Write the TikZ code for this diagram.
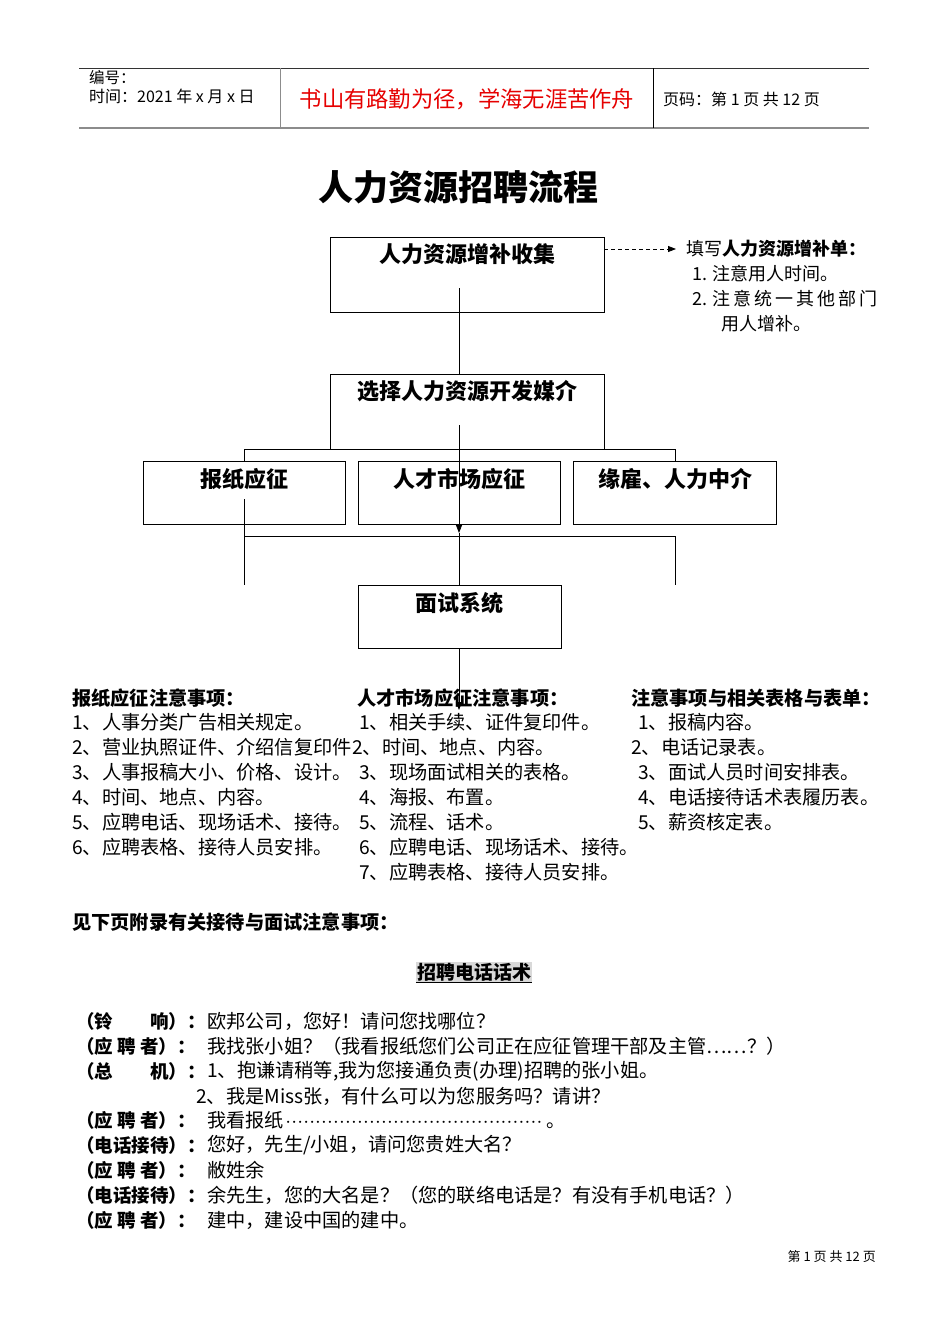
\documentclass[tikz,border=0pt]{standalone}
\usepackage{fontspec}
\setmainfont{Noto Sans CJK SC}
\usetikzlibrary{arrows.meta,calc}
\newcommand{\fsz}[1]{\fontsize{#1}{#1}\selectfont}
\newcommand{\gp}{\kern3pt}
\definecolor{mottored}{RGB}{230,0,0}
\begin{document}
\begin{tikzpicture}[x=1pt,y=-1pt,
  bigbox/.style={draw, line width=0.9pt, minimum width=274pt, minimum height=75pt, inner sep=0pt},
  midbox/.style={draw, line width=0.9pt, minimum width=202pt, minimum height=63pt, inner sep=0pt},
  boxlabel/.style={inner sep=0pt, font=\fsz{22}\bfseries},
  txt/.style={anchor=west, inner sep=0pt},
  body/.style={txt, font=\fsz{19.2}},
  bodysm/.style={txt, font=\fsz{19.2}},
  head/.style={txt, font=\fsz{19.2}\bfseries},
  dlabel/.style={txt, font=\fsz{18.5}\bfseries},
  dtext/.style={txt, font=\fsz{19.2}},
  link/.style={line width=0.8pt},
  arr/.style={line width=0.8pt, -{Triangle[length=8pt,width=6pt]}}]
\useasboundingbox (0,0) rectangle (950,1344);
\fill[white] (0,0) rectangle (950,1344);

% header
\draw[line width=0.8pt, black!80] (79,68) -- (869,68);
\draw[line width=2pt, black!45] (79,128) -- (869,128);
\draw[line width=0.8pt, black!45] (280,68) -- (280,128);
\draw[line width=0.8pt] (653,68) -- (653,128);
\node[txt, font=\fsz{15.5}] (hno) at (89,78) {编号：};
\node[txt, font=\fsz{16}] (htime) at (89,96) {时间：2021 年 x 月 x 日};
\node[inner sep=0pt, font=\fsz{22.3}, text=mottored] (motto) at (467,99) {书山有路勤为径，学海无涯苦作舟};
\node[txt, font=\fsz{16}] (hpage) at (663,99) {页码：第 1 页 共 12 页};

% title
\node[inner sep=0pt, font=\fsz{35}\bfseries] (title) at (458,187) {人力资源招聘流程};

% flow boxes
\node[bigbox] (b1) at (467,274.5) {};
\node[boxlabel] (b1t) at (467,254) {人力资源增补收集};
\node[bigbox] (b2) at (467,411.5) {};
\node[boxlabel] (b2t) at (467,391) {选择人力资源开发媒介};
\node[midbox] (ba) at (244.5,492.5) {};
\node[boxlabel] (bat) at (244,479) {报纸应征};
\node[midbox] (bb) at (459,492.5) {};
\node[boxlabel] (bbt) at (459,479) {人才市场应征};
\node[midbox, minimum width=203pt] (bc) at (674.5,492.5) {};
\node[boxlabel] (bct) at (675,479) {缘雇、人力中介};
\node[midbox, minimum width=203pt] (bd) at (459.5,616.5) {};
\node[boxlabel] (bdt) at (459,603) {面试系统};

% connectors
\coordinate (c1) at (459,288);
\coordinate (c2) at (459,425);
\coordinate (tip1) at (459,533);
\coordinate (tip2) at (459,710);
\coordinate (hl) at (244,449);
\coordinate (hr) at (675,449);
\coordinate (la) at (244,499);
\coordinate (lab) at (244,585);
\coordinate (lcb) at (675,585);
\draw[link] (c1) -- (c1 |- b2.north);
\draw[arr] (c2) -- (tip1);
\draw[link] (tip1) -- (tip1 |- bd.north);
\draw[arr] (tip1 |- bd.south) -- (tip2);
\draw[link] (hl) -- (hr);
\draw[link] (hl) -- (hl |- ba.north);
\draw[link] (hr) -- (hr |- bc.north);
\draw[link] (la) -- (lab);
\draw[link] (244,536) -- (675,536);
\draw[link] (675,536) -- (lcb);

% dashed note
\coordinate (dtip) at (676,249);
\draw[line width=0.8pt, dashed, dash pattern=on 4pt off 3pt, -{Triangle[length=8pt,width=6pt]}] (b1.east |- dtip) -- (dtip);
\node[txt, font=\fsz{18}] (n0) at (686,249) {填写\textbf{人力资源增补单：}};
\node[txt, font=\fsz{18}] (n1) at (692,274) {1. 注意用人时间。};
\node[txt, font=\fsz{18}] (n2) at (692,299) {2. 注\gp 意\gp 统\gp 一\gp 其\gp 他\gp 部\gp 门};
\node[txt, font=\fsz{18}] (n3) at (721,324) {用人增补。};

% columns
\node[head] (h1) at (72,698) {报纸应征注意事项：};
\node[head] (h2) at (357,698) {人才市场应征注意事项：};
\node[head] (h3) at (631,698) {注意事项与相关表格与表单：};

\node[body] (a1) at (72,722) {1、人事分类广告相关规定。};
\node[body] (a2) at (72,747) {2、营业执照证件、介绍信复印件};
\node[body] (a3) at (72,772) {3、人事报稿大小、价格、设计。};
\node[body] (a4) at (72,797) {4、时间、地点、内容。};
\node[body] (a5) at (72,822) {5、应聘电话、现场话术、接待。};
\node[body] (a6) at (72,847) {6、应聘表格、接待人员安排。};

\node[body] (m1) at (359,722) {1、相关手续、证件复印件。};
\node[body] (m2) at (352,747) {2、时间、地点、内容。};
\node[body] (m3) at (359,772) {3、现场面试相关的表格。};
\node[body] (m4) at (359,797) {4、海报、布置。};
\node[body] (m5) at (359,822) {5、流程、话术。};
\node[body] (m6) at (359,847) {6、应聘电话、现场话术、接待。};
\node[body] (m7) at (359,872) {7、应聘表格、接待人员安排。};

\node[bodysm] (r1) at (638,722) {1、报稿内容。};
\node[bodysm] (r2) at (631,747) {2、电话记录表。};
\node[bodysm] (r3) at (638,772) {3、面试人员时间安排表。};
\node[bodysm] (r4) at (638,797) {4、电话接待话术表履历表。};
\node[bodysm] (r5) at (638,822) {5、薪资核定表。};

\node[txt, font=\fsz{19.2}\bfseries] (see) at (72,922) {见下页附录有关接待与面试注意事项：};

% section title
\node[inner sep=1pt, fill=black!15, font=\fsz{19}\bfseries] (sec) at (474,972) {招聘电话话术};
\draw[line width=1pt] (sec.south west) -- (sec.south east);

% dialogue
\node[dlabel] (l1) at (76,1021) {（铃　　响）：};
\node[dtext] (t1) at (207,1021) {欧邦公司，您好！请问您找哪位？};
\node[dlabel] (l2) at (76,1046) {（应 聘 者）：};
\node[dtext] (t2) at (207,1046) {我找张小姐？（我看报纸您们公司正在应征管理干部及主管……？）};
\node[dlabel] (l3) at (76,1071) {（总　　机）：};
\node[dtext] (t3) at (207,1071) {1、抱谦请稍等,我为您接通负责(办理)招聘的张小姐。};
\node[dtext] (t4) at (196,1096) {2、我是Miss张，有什么可以为您服务吗？请讲？};
\node[dlabel] (l5) at (76,1120) {（应 聘 者）：};
\node[dtext] (t5) at (207,1120) {我看报纸\leaders\hbox to 6pt{\hss$\cdot$\hss}\hskip 262pt 。};
\node[dlabel] (l6) at (76,1145) {（电话接待）：};
\node[dtext] (t6) at (207,1145) {您好，先生/小姐，请问您贵姓大名？};
\node[dlabel] (l7) at (76,1170) {（应 聘 者）：};
\node[dtext] (t7) at (207,1170) {敝姓余};
\node[dlabel] (l8) at (76,1195) {（电话接待）：};
\node[dtext] (t8) at (207,1195) {余先生，您的大名是？（您的联络电话是？有没有手机电话？）};
\node[dlabel] (l9) at (76,1220) {（应 聘 者）：};
\node[dtext] (t9) at (207,1220) {建中，建设中国的建中。};

% footer
\node[anchor=east, inner sep=0pt, font=\fsz{13}] (foot) at (876,1257) {第 1 页 共 12 页};
\end{tikzpicture}
\end{document}
